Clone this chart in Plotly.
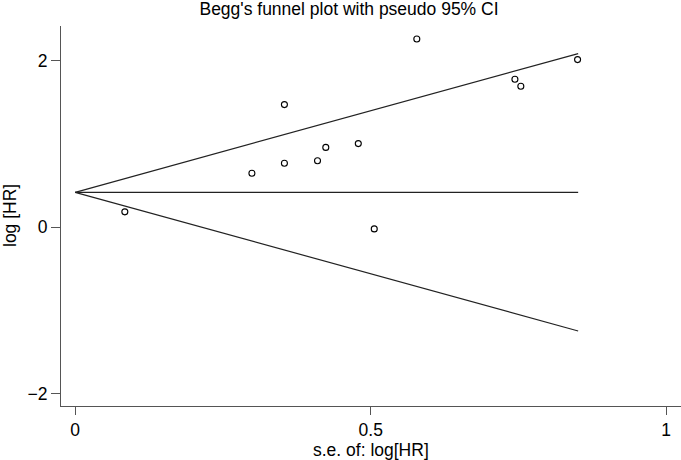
#######################################################################################################################
# Begg's funnel plot with pseudo 95% CI
#######################################################################################################################

#######################################################################################################################
# Import libs
#######################################################################################################################
import plotly.graph_objects as go

#######################################################################################################################
# Data
#######################################################################################################################
# standard errors and effect sizes (log HR) of the studies
seLogHR = [0.084, 0.299, 0.354, 0.354, 0.410, 0.424, 0.479, 0.506, 0.578, 0.744, 0.754, 0.850]
logHR = [0.185, 0.649, 0.769, 1.475, 0.800, 0.960, 1.006, -0.020, 2.264, 1.779, 1.695, 2.016]

# pooled estimate and pseudo 95% CI limits
pooled = 0.42
seMax = 0.851
zCrit = 1.96

xTicks = [0, 0.5, 1]
xTickText = ["0", "0.5", "1"]
yTicks = [-2, 0, 2]
yTickText = ["\u22122", "0", "2"]

#######################################################################################################################
# Main
#######################################################################################################################
fnt = "Liberation Sans, Arial, Helvetica, sans-serif"
axCol = "#555555"
fs = 17.5

fig = go.Figure()

# ------------------------------------------
# Funnel lines
# ------------------------------------------
fig.add_trace(go.Scatter(x=[0, seMax], y=[pooled, pooled + zCrit * seMax], mode='lines',
                         line=dict(color='#222222', width=1.2), hoverinfo='skip'))
fig.add_trace(go.Scatter(x=[0, seMax], y=[pooled, pooled - zCrit * seMax], mode='lines',
                         line=dict(color='#222222', width=1.2), hoverinfo='skip'))
fig.add_trace(go.Scatter(x=[0, seMax], y=[pooled, pooled], mode='lines',
                         line=dict(color='#222222', width=1.2), hoverinfo='skip'))

# ------------------------------------------
# Studies
# ------------------------------------------
fig.add_trace(go.Scatter(x=seLogHR, y=logHR, mode='markers',
                         marker=dict(symbol='circle-open', size=6, color='black', line=dict(width=1.1))))

# ==============================================================================
# Axis
# ==============================================================================
fig.update_xaxes(range=[-0.024, 1.025], tickvals=xTicks, ticktext=xTickText, ticks='outside', ticklen=8,
                 tickcolor=axCol, showline=True, linecolor=axCol, linewidth=1, showgrid=False, zeroline=False,
                 tickfont=dict(size=fs, color='black'), automargin=False)
fig.update_yaxes(range=[-2.15, 2.42], tickvals=yTicks, ticktext=yTickText, ticks='outside', ticklen=9,
                 tickcolor=axCol, showline=True, linecolor=axCol, linewidth=1, showgrid=False, zeroline=False,
                 tickfont=dict(size=fs, color='black'), automargin=False)

# axis titles as annotations so the margins stay fixed
fig.add_annotation(text="s.e. of: log[HR]", xref='paper', yref='paper', x=0.5, y=-43.5 / 380,
                   xanchor='center', yanchor='middle', showarrow=False, font=dict(size=fs, color='black'))
fig.add_annotation(text="log [HR]", xref='paper', yref='paper', x=-51 / 620, y=0.5, textangle=-90,
                   xanchor='center', yanchor='middle', showarrow=False, font=dict(size=fs, color='black'))

# ==============================================================================
# Title / layout
# ==============================================================================
fig.update_layout(width=681, height=460, showlegend=False,
                  paper_bgcolor='white', plot_bgcolor='white',
                  font=dict(family=fnt, color='black'),
                  margin=dict(l=61, r=0, t=26, b=54, autoexpand=False),
                  title=dict(text="Begg's funnel plot with pseudo 95% CI", x=349 / 681, xanchor='center',
                             y=1 - 9 / 460, yanchor='middle', font=dict(size=fs, color='black')))

# page without body margin so the figure sits at the window origin
fig.write_html("out.html", config={'displayModeBar': False},
               post_script="document.body.style.margin='0px';")
